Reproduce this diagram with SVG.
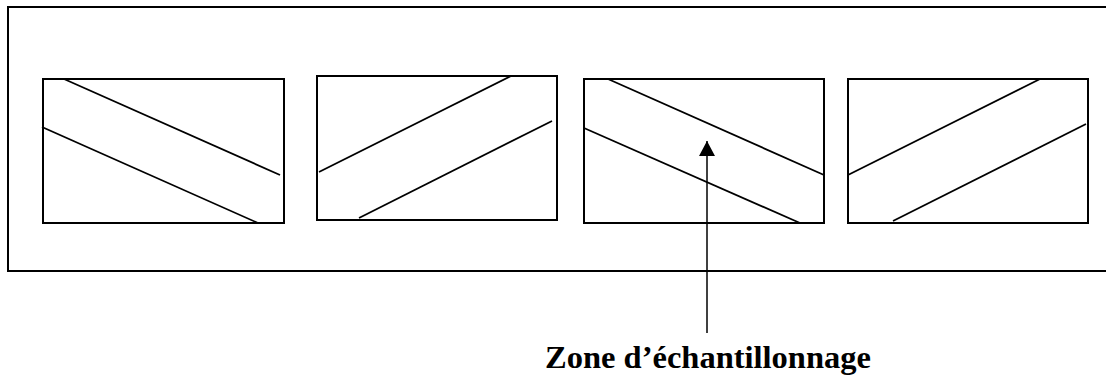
<svg xmlns="http://www.w3.org/2000/svg" width="1106" height="376" viewBox="0 0 1106 376">
<defs>
<style>
.frame{fill:none;stroke:#000;stroke-width:2}
.box{fill:#fff;stroke:#000;stroke-width:2}
.band{stroke:#000;stroke-width:1.8;fill:none}
.conn{stroke:#000;stroke-width:1.5;fill:none}
.label{font-family:"Liberation Serif","Times New Roman",serif;font-weight:bold;font-size:32.5px;fill:#000}
</style>
<marker id="arrow" markerWidth="16" markerHeight="17" refX="15" refY="8" orient="auto" markerUnits="userSpaceOnUse">
<path d="M0,0 L15,8 L0,16 Z" fill="#000"/>
</marker>
</defs>
<rect width="1106" height="376" fill="#fff"/>
<g id="frame">
<path class="frame" d="M1110,7 L8,7 L8,271 L1110,271"/>
</g>
<g id="box1">
<rect class="box" x="43" y="79" width="241" height="144"/>
<line class="band" x1="64" y1="79" x2="280" y2="175"/>
<line class="band" x1="42" y1="127" x2="258" y2="223"/>
</g>
<g id="box2">
<rect class="box" x="317" y="76" width="240" height="144"/>
<line class="band" x1="319" y1="172" x2="511" y2="76"/>
<line class="band" x1="359" y1="218" x2="552" y2="121"/>
</g>
<g id="box3">
<rect class="box" x="584" y="79" width="240" height="144"/>
<line class="band" x1="608" y1="79" x2="824" y2="175"/>
<line class="band" x1="584" y1="128" x2="800" y2="223"/>
</g>
<g id="box4">
<rect class="box" x="848" y="79" width="240" height="144"/>
<line class="band" x1="848" y1="175" x2="1040" y2="79"/>
<line class="band" x1="893" y1="221" x2="1086" y2="124"/>
</g>
<g id="connectors">
<line class="conn" x1="707" y1="333" x2="707" y2="141" marker-end="url(#arrow)"/>
</g>
<g id="label">
<text class="label" x="545" y="368">Zone d’échantillonnage</text>
</g>
</svg>
